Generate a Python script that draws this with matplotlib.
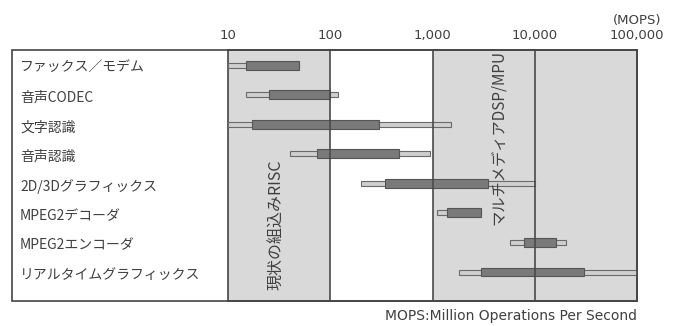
import matplotlib
matplotlib.use("Agg")
import matplotlib.pyplot as plt
from matplotlib.patches import Rectangle

plt.rcParams['font.family'] = ['Noto Sans CJK JP', 'DejaVu Sans']

categories = ["ファックス／モデム", "音声CODEC", "文字認識", "音声認識",
              "2D/3Dグラフィックス", "MPEG2デコーダ", "MPEG2エンコーダ",
              "リアルタイムグラフィックス"]
light_start = [10, 15, 10, 40, 200, 1100, 5700, 1800]
light_end = [50, 120, 1500, 950, 10000, 3000, 20000, 100000]
dark_start = [15, 25, 17, 75, 340, 1400, 7800, 3000]
dark_end = [50, 100, 300, 470, 3500, 3000, 16000, 30000]
tick_values = [10, 100, 1000, 10000, 100000]
tick_labels = ["10", "100", "1,000", "10,000", "100,000"]

W, H = 683, 326
fig = plt.figure(figsize=(W / 100, H / 100), dpi=100)
fig.patch.set_facecolor("white")

x0, x1, ytop, ybot = 228, 637, 50, 301
ax = fig.add_axes([x0 / W, (H - ybot) / H, (x1 - x0) / W, (ybot - ytop) / H])
ax.set_xscale('log')
ax.set_xlim(10, 100000)
n = len(categories)
ax.set_ylim(n - 0.02, -0.51)

txt = "#404040"
shade = "#d9d9d9"
ax.axvspan(10, 100, color=shade, zorder=0, lw=0)
ax.axvspan(1000, 100000, color=shade, zorder=0, lw=0)
for v in [100, 1000, 10000]:
    ax.axvline(v, color="#4a4a4a", lw=1.2, zorder=5)

ys = list(range(n))
ax.barh(ys, [e - s for s, e in zip(light_start, light_end)], left=light_start,
        height=0.17, color="#cfcfcf", edgecolor="#6a6a6a", lw=0.8, zorder=3)
ax.barh(ys, [e - s for s, e in zip(dark_start, dark_end)], left=dark_start,
        height=0.30, color="#7a7a7a", edgecolor="#555555", lw=0.8, zorder=4)

ax.set_xticks([])
ax.set_yticks([])
ax.minorticks_off()
for s in ax.spines.values():
    s.set_color("#444444")
    s.set_linewidth(1.2)

for v, lab in zip(tick_values, tick_labels):
    ax.text(v, -0.51 - 0.5, lab, ha='center', va='center', fontsize=9.5,
            color=txt, family=['DejaVu Sans'])
ax.text(100000, -0.51 - 1.0, "(MOPS)", ha='center', va='center', fontsize=9.5,
        color=txt, family=['DejaVu Sans'])

ax.text(30, 5.4, "現状の組込みRISC", rotation=90, ha='center', va='center',
        fontsize=11.5, color=txt)
ax.text(4400, 2.45, "マルチメディアDSP/MPU", rotation=90, ha='center', va='center',
        fontsize=11, color=txt, zorder=6)

# outer box incl. label column
fig.add_artist(Rectangle((12 / W, (H - ybot) / H), (x1 - 12) / W, (ybot - ytop) / H,
                         transform=fig.transFigure, fill=False,
                         edgecolor="#444444", lw=1.2))

for i, c in enumerate(categories):
    ypix = ytop + (i + 0.51) * (ybot - ytop) / (n - 0.02 + 0.51) + 3
    fig.text(20 / W, 1 - ypix / H, c, ha='left', va='center', fontsize=10, color=txt)

fig.text(637 / W, 1 - 316 / H, "MOPS:Million Operations Per Second", ha='right',
         va='center', fontsize=10, color=txt, family=['DejaVu Sans'])

fig.savefig("out.png", dpi=100)
